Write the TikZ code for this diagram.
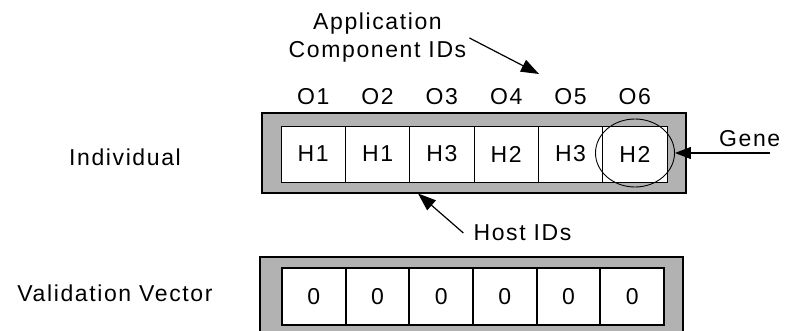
\documentclass[tikz,border=0pt]{standalone}
\usepackage{fontspec}
\setmainfont{Liberation Sans}[LetterSpace=7]
\usetikzlibrary{arrows.meta,shapes.geometric}

\tikzset{
  outerbox/.style={draw,line width=1.3pt,fill=black!30,inner sep=0pt},
  cell/.style={draw,fill=white,minimum height=56pt,inner sep=0pt,font=\fontsize{23}{27}\selectfont},
  lbl/.style={font=\fontsize{23}{28}\selectfont,align=center,inner sep=0pt},
  pointer/.style={-{Triangle[length=18pt,width=13pt]},line width=1.2pt},
}

\begin{document}
\begin{tikzpicture}[x=1pt,y=-1pt]
  \useasboundingbox (0,0) rectangle (785,331);
  \clip (0,0) rectangle (785,331);

  %individual
  \node[outerbox,minimum width=424pt,minimum height=80pt] (indiv) at (474,153) {};
  \foreach \h [count=\i] in {H1,H1,H3,H2,H3,H2}{
    \node[cell,minimum width=64.33pt,line width=0.9pt] (h\i) at (248.9+64.33*\i,154) {\h};
    \node[lbl] (o\i) at (248.9+64.33*\i,97) {O\i};
  }
  \node[lbl] (indivlbl) at (125,157) {Individual};

  %validation vector
  \node[outerbox,minimum width=423pt,minimum height=88pt] (valid) at (471.5,301) {};
  \foreach \i in {1,...,6}{
    \node[cell,minimum width=63.67pt,minimum height=57pt,line width=2pt] (v\i) at (250.2+63.67*\i,296.5) {0};
  }
  \node[lbl] (validlbl) at (115,293) {Validation Vector};

  %pointers
  \node[lbl,inner sep=3pt] (app) at (377.5,38) {Application\\Component IDs};
  \coordinate (apptip) at (539,74);
  \draw[pointer] (app.east) -- (apptip);

  \node[lbl,inner xsep=10pt] (host) at (522.5,233) {Host IDs};
  \coordinate (hosttip) at (418,193.5);
  \draw[pointer] (host.west) -- (hosttip);

  \node[draw,ellipse,line width=0.9pt,minimum width=79pt,minimum height=68pt,inner sep=0pt] (gene) at (635,153) {};
  \node[lbl,anchor=base west] (genelbl) at (719,147) {Gene};
  \coordinate (genetail) at (770,153);
  \draw[pointer,-{Triangle[length=16pt,width=12pt]}] (genetail) -- (gene.east);
\end{tikzpicture}
\end{document}
